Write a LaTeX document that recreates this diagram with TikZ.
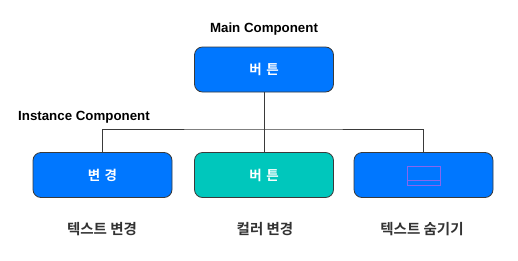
\documentclass[tikz,border=0pt]{standalone}
\usepackage{fontspec}
\setmainfont{Liberation Sans}
\newfontfamily\kr{Noto Sans CJK KR}[BoldFont={Noto Sans CJK KR Bold}]
\definecolor{bblue}{HTML}{0077FF}
\definecolor{tteal}{HTML}{00C7BC}
\definecolor{edge}{HTML}{3A3A3A}
\definecolor{lbl}{HTML}{333333}
\definecolor{sel}{HTML}{8866EE}
\begin{document}
\begin{tikzpicture}[x=1pt,y=-1pt,
  comp/.style={draw=edge,line width=0.8pt,rounded corners=8pt,minimum width=139pt,minimum height=45pt,inner sep=0pt,text=white,font=\kr\bfseries\fontsize{13.5}{15}\selectfont},
  titlelbl/.style={text=black,font=\bfseries\fontsize{13.3}{15}\selectfont,inner sep=0pt},
  sub/.style={text=lbl,font=\kr\bfseries\fontsize{14.5}{17}\selectfont,inner sep=0pt},
  wire/.style={draw=edge,line width=0.7pt}]
\useasboundingbox (0,0) rectangle (518,260);
\node[comp,fill=bblue] (main) at (264,69.5) {버\,\,튼};
\node[titlelbl] (mainlbl) at (264,29) {Main Component};
\node[titlelbl,anchor=west] (instlbl) at (18,117) {Instance Component};
\node[comp,fill=bblue] (b1) at (102.5,175) {변\,\,경};
\node[comp,fill=tteal] (b2) at (264,175) {버\,\,튼};
\node[comp,fill=bblue] (b3) at (423.5,175) {};
\draw[sel,line width=0.4pt] (407,166) rectangle (440,185) (407,180) -- (440,180);
\coordinate (hub) at (264,129);
\draw[wire] (main.south) -- (hub);
\draw[wire] (b1.north) |- (hub) -| (b3.north);
\draw[wire] (hub) -- (b2.north);
\node[sub] (l1) at (102,229) {텍스트 변경};
\node[sub] (l2) at (265,229) {컬러 변경};
\node[sub] (l3) at (422,229) {텍스트 숨기기};
\end{tikzpicture}
\end{document}
